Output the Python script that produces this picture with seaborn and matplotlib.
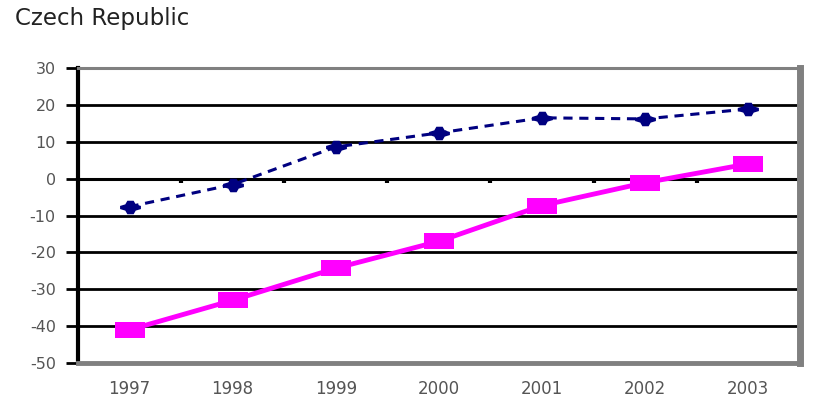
import matplotlib
matplotlib.use("Agg")
import matplotlib.pyplot as plt
import seaborn as sns
import pandas as pd

years = ["1997", "1998", "1999", "2000", "2001", "2002", "2003"]
series_a = [-7.6, -1.6, 8.6, 12.4, 16.5, 16.2, 18.9]
series_b = [-41.0, -33.0, -24.3, -17.0, -7.3, -1.1, 4.0]
y_ticks = [30, 20, 10, 0, -10, -20, -30, -40, -50]

sns.set_theme(style="white")
plt.rcParams["font.family"] = ["DejaVu Sans"]

df = pd.DataFrame({"pos": list(range(len(years))), "year": years,
                   "a": series_a, "b": series_b})

fig = plt.figure(figsize=(8.27, 4.05), dpi=100)
ax = fig.add_axes([0.0943, 0.1037, 0.8727, 0.7283])

# horizontal gridlines
for v in y_ticks:
    ax.axhline(v, color="black", lw=2.2 if v == 0 else 2.0, zorder=1)

rect = [(-1, -0.55), (1, -0.55), (1, 0.55), (-1, 0.55)]
blob = [(-1, -0.15), (-0.5, -0.3), (-0.3, -0.65), (0.3, -0.65), (0.5, -0.3),
        (1, -0.15), (1, 0.15), (0.5, 0.3), (0.3, 0.65), (-0.3, 0.65),
        (-0.5, 0.3), (-1, 0.15)]

sns.lineplot(data=df, x="pos", y="b", ax=ax, color="#FF00FF", lw=3.5,
             marker=rect, markersize=21, markeredgewidth=0, zorder=3)
sns.lineplot(data=df, x="pos", y="a", ax=ax, color="#000080", lw=2.2,
             marker=blob, markersize=15, markeredgewidth=0, zorder=4)
ax.lines[-1].set_linestyle((0, (3, 2.2)))

# category boundary ticks hanging under the zero line
for i in range(len(years)):
    ax.plot([i + 0.5, i + 0.5], [0, -1.3], color="black", lw=3,
            solid_capstyle="butt", zorder=2, clip_on=False)

ax.set_xlim(-0.5, len(years) - 0.5)
ax.set_ylim(-50, 30)
ax.set_yticks(y_ticks)
ax.set_yticklabels([str(v) for v in y_ticks])
ax.set_xticks(df["pos"])
ax.set_xticklabels(years)
ax.set_xlabel("")
ax.set_ylabel("")

ax.tick_params(axis="y", left=True, length=9, width=2, color="black",
               labelsize=11.5, labelcolor="#555555", pad=7)
ax.tick_params(axis="x", bottom=False, labelsize=12, labelcolor="#555555",
               pad=6)

ax.spines["left"].set_color("black")
ax.spines["left"].set_linewidth(3)
ax.spines["top"].set_color("#808080")
ax.spines["top"].set_linewidth(2.2)
ax.spines["right"].set_color("#808080")
ax.spines["right"].set_linewidth(5)
ax.spines["bottom"].set_color("#808080")
ax.spines["bottom"].set_linewidth(3.5)

fig.text(0.018, 0.955, "Czech Republic", fontsize=16.5, color="#222222",
         ha="left", va="center")

fig.savefig("out.png", dpi=100)
